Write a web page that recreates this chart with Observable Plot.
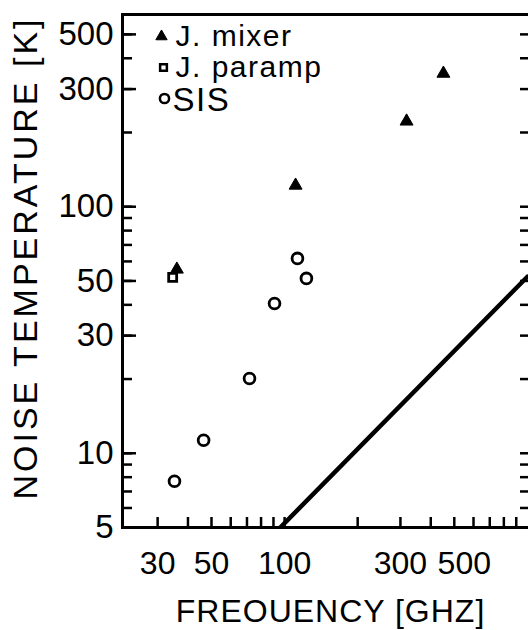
<!DOCTYPE html>
<html><head><meta charset="utf-8">
<script src="https://cdn.jsdelivr.net/npm/d3@7"></script>
<script src="https://cdn.jsdelivr.net/npm/@observablehq/plot@0.6"></script>
<style>
html,body{margin:0;padding:0;background:#fff;overflow:hidden;}
svg{max-width:none !important;}
</style></head><body><div id="chart"></div>
<script>
const mixerFreq = [36, 111, 318, 451];
const mixerTemp = [55.7, 122, 222, 347];
const parampFreq = [34.6];
const parampTemp = [51.7];
const sisFreq = [35.2, 46.4, 71.7, 90.9, 113, 123];
const sisTemp = [7.7, 11.3, 20.1, 40.5, 61.7, 51.2];
const limitFreq = [96, 1000];
const limitTemp = [5, 52];
const xTickLabels = [30, 50, 100, 300];
const xTickLabelsShifted = [500];
const xMinorTicks = [30, 40, 50, 60, 70, 80, 90, 100, 200, 300, 400, 500, 600, 700, 800, 900];
const yTickLabels = [5, 10, 30, 50, 100, 300, 500];
const yMinorTicks = [5, 6, 7, 8, 9, 10, 20, 30, 40, 50, 60, 70, 80, 90, 100, 200, 300, 400, 500];
const legendNames = ["J. mixer", "J. paramp", "SIS"];
const xLabel = "FREOUENCY [GHZ]";
const yLabel = "NOISE TEMPERATURE [K]";

const rows = (fs, ts) => fs.map((f, i) => ({f, t: ts[i]}));
const mixer = rows(mixerFreq, mixerTemp);
const paramp = rows(parampFreq, parampTemp);
const sis = rows(sisFreq, sisTemp);
const limit = rows(limitFreq, limitTemp);

const W = 540, H = 630, mL = 122, mR = 10, mT = 14, mB = 103;
const plotW = W - mL - mR, plotH = H - mT - mB;
const fmt = d => String(d);

const chart = Plot.plot({
  width: W, height: H,
  marginLeft: mL, marginRight: mR, marginTop: mT, marginBottom: mB,
  style: {fontFamily: "Liberation Sans, Arial, sans-serif", color: "black", background: "white", overflow: "visible", maxWidth: "none"},
  x: {type: "log", domain: [21.5, 1030]},
  y: {type: "log", domain: [5, 602]},
  marks: [
    Plot.frame({stroke: "black", strokeWidth: 3}),
    Plot.tickX(xMinorTicks, {x: d => d, insetTop: plotH - 10, stroke: "black", strokeWidth: 2.5}),
    Plot.tickY(yMinorTicks, {y: d => d, insetRight: plotW - 10, stroke: "black", strokeWidth: 2.5}),
    Plot.tickY(yTickLabels, {y: d => d, insetRight: plotW - 14, stroke: "black", strokeWidth: 2.5}),
    Plot.tickY(yMinorTicks, {y: d => d, insetLeft: plotW - 10, stroke: "black", strokeWidth: 2.5}),
    Plot.axisX({ticks: xTickLabels, tickSize: 0, tickPadding: 24, fontSize: 32, tickFormat: fmt, label: null}),
    Plot.axisX({ticks: xTickLabelsShifted, tickSize: 0, tickPadding: 24, fontSize: 32, tickFormat: fmt, label: null, dx: 10}),
    Plot.axisY({ticks: yTickLabels, tickSize: 0, tickPadding: 9, fontSize: 33, tickFormat: fmt, label: null}),
    Plot.line(limit, {x: "f", y: "t", stroke: "black", strokeWidth: 4.5, clip: true}),
    Plot.dot(mixer, {x: "f", y: "t", symbol: "triangle", r: 4.8, fill: "black", stroke: "black", strokeWidth: 1}),
    Plot.dot(paramp, {x: "f", y: "t", symbol: "square", r: 4.5, fill: "none", stroke: "black", strokeWidth: 2.8}),
    Plot.dot(sis, {x: "f", y: "t", symbol: "circle", r: 5.4, fill: "none", stroke: "black", strokeWidth: 2.8}),
    // legend
    Plot.dot([legendNames[0]], {frameAnchor: "top-left", dx: 39, dy: 22, symbol: "triangle", r: 4.2, fill: "black", stroke: "black", strokeWidth: 1}),
    Plot.dot([legendNames[1]], {frameAnchor: "top-left", dx: 41, dy: 53, symbol: "square", r: 3.8, fill: "none", stroke: "black", strokeWidth: 2.5}),
    Plot.dot([legendNames[2]], {frameAnchor: "top-left", dx: 42, dy: 84, symbol: "circle", r: 4.6, fill: "none", stroke: "black", strokeWidth: 2.5}),
    Plot.text([legendNames[0]], {frameAnchor: "top-left", dx: 53, dy: 31, text: d => d, textAnchor: "start", lineAnchor: "bottom", fontSize: 30, fill: "black"}),
    Plot.text([legendNames[1]], {frameAnchor: "top-left", dx: 53, dy: 62, text: d => d, textAnchor: "start", lineAnchor: "bottom", fontSize: 30, fill: "black"}),
    Plot.text([legendNames[2]], {frameAnchor: "top-left", dx: 50, dy: 96, text: d => d, textAnchor: "start", lineAnchor: "bottom", fontSize: 33, fill: "black"}),
    Plot.text([xLabel], {frameAnchor: "bottom", dx: 4, dy: 94, text: d => d, textAnchor: "middle", lineAnchor: "bottom", fontSize: 32, fill: "black"}),
    Plot.text([yLabel], {frameAnchor: "left", dx: -86, dy: -13, rotate: -90, text: d => d, textAnchor: "middle", lineAnchor: "bottom", fontSize: 34, fill: "black"})
  ]
});
document.getElementById("chart").append(chart);

const svg = d3.select(chart);
svg.selectAll("text").each(function() {
  const t = this.textContent;
  if (legendNames.includes(t)) this.style.letterSpacing = "1.5px";
  if (t === xLabel) this.style.letterSpacing = "1px";
  if (t === yLabel) this.style.letterSpacing = "3px";
});
</script></body></html>
